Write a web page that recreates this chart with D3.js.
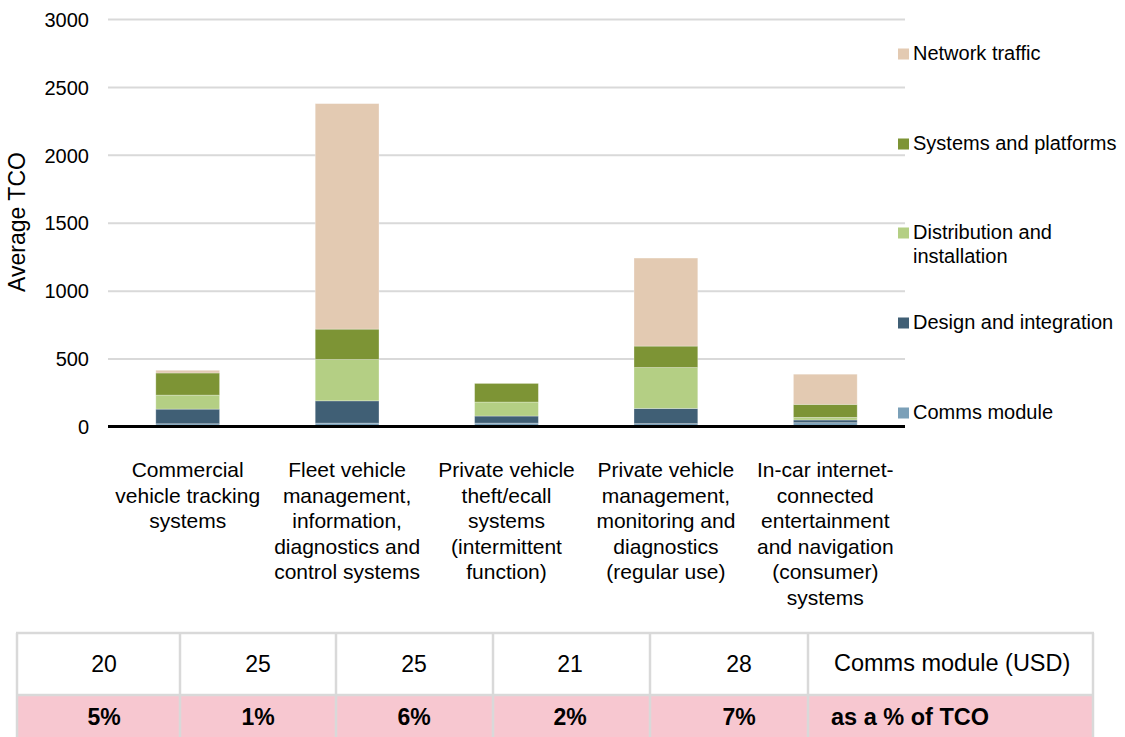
<!DOCTYPE html>
<html>
<head>
<meta charset="utf-8">
<script src="https://cdn.jsdelivr.net/npm/d3@7"></script>
<style>
  html, body { margin: 0; padding: 0; background: #fff; }
  svg { display: block; font-family: Arial, "Liberation Sans", sans-serif; }
</style>
</head>
<body>
<svg id="chart" width="1125" height="737"></svg>
<script>
// Telematics applications: average total cost of ownership, by cost component
const categories = [
  "Commercial vehicle tracking systems",
  "Fleet vehicle management, information, diagnostics and control systems",
  "Private vehicle theft/ecall systems (intermittent function)",
  "Private vehicle management, monitoring and diagnostics (regular use)",
  "In-car internet-connected entertainment and navigation (consumer) systems"
];
const categoryLines = [
  ["Commercial", "vehicle tracking", "systems"],
  ["Fleet vehicle", "management,", "information,", "diagnostics and", "control systems"],
  ["Private vehicle", "theft/ecall", "systems", "(intermittent", "function)"],
  ["Private vehicle", "management,", "monitoring and", "diagnostics", "(regular use)"],
  ["In-car internet-", "connected", "entertainment", "and navigation", "(consumer)", "systems"]
];

// Stack order, bottom to top
const seriesNames = ["Comms module", "Design and integration", "Distribution and installation", "Systems and platforms", "Network traffic"];
const commsModule        = [20, 25, 25, 21, 28];
const designIntegration  = [108, 164, 52, 112, 20];
const distribution       = [103, 304, 103, 301, 19];
const systemsPlatforms   = [163, 224, 137, 158, 96];
const networkTraffic     = [20, 1660, 0, 648, 222];

const yTicks = [0, 500, 1000, 1500, 2000, 2500, 3000];

// Table beneath the chart
const commsUsdLabels = ["20", "25", "25", "21", "28"];
const shareOfTco     = ["5%", "1%", "6%", "2%", "7%"];
const tableRowLabels = ["Comms module (USD)", "as a % of TCO"];

const colors = {
  "Comms module": "#7BA0B8",
  "Design and integration": "#405F75",
  "Distribution and installation": "#B4CF84",
  "Systems and platforms": "#7D9435",
  "Network traffic": "#E3CAB2"
};

const rows = categories.map((c, i) => ({
  category: c,
  "Comms module": commsModule[i],
  "Design and integration": designIntegration[i],
  "Distribution and installation": distribution[i],
  "Systems and platforms": systemsPlatforms[i],
  "Network traffic": networkTraffic[i]
}));

const svg = d3.select("#chart");
const plotLeft = 108, plotRight = 905, plotTop = 19, plotBottom = 426.5;

const x = d3.scaleBand().domain(categories).range([plotLeft, plotRight])
  .paddingInner(0.6).paddingOuter(0.3);
const y = d3.scaleLinear().domain([0, 3000]).range([plotBottom, plotTop]);

// Gridlines and y labels
const yAxis = d3.axisLeft(y).tickValues(yTicks).tickFormat(d3.format("d"))
  .tickSize(-(plotRight - plotLeft)).tickPadding(19);
const gy = svg.append("g").attr("transform", `translate(${plotLeft},0)`).call(yAxis);
gy.select(".domain").remove();
gy.selectAll(".tick line").attr("stroke", "#D9D9D9").attr("stroke-width", 2);
gy.selectAll(".tick text").attr("fill", "#000").attr("dy", "0.36em").style("font-size", "20px")
  .style("font-family", "Arial, 'Liberation Sans', sans-serif");

svg.append("text")
  .attr("transform", "translate(25,222) rotate(-90)")
  .attr("text-anchor", "middle")
  .style("font-size", "23px")
  .text("Average TCO");

// Stacked bars
const stack = d3.stack().keys(seriesNames);
const layers = stack(rows);
svg.append("g").selectAll("g").data(layers).join("g")
  .attr("fill", d => colors[d.key])
  .selectAll("rect").data(d => d).join("rect")
  .attr("x", d => x(d.data.category))
  .attr("width", x.bandwidth())
  .attr("y", d => y(d[1]))
  .attr("height", d => Math.max(0, y(d[0]) - y(d[1])))
  .attr("stroke", "#fff").attr("stroke-opacity", 0.35).attr("stroke-width", 0.8);

// Baseline
svg.append("line")
  .attr("x1", plotLeft).attr("x2", plotRight)
  .attr("y1", y(0)).attr("y2", y(0))
  .attr("stroke", "#000").attr("stroke-width", 3);

// Category labels
const lineH = 25.6;
categories.forEach((c, i) => {
  const cx = x(c) + x.bandwidth() / 2;
  const t = svg.append("text").attr("text-anchor", "middle").style("font-size", "21px");
  categoryLines[i].forEach((ln, j) => {
    t.append("tspan").attr("x", cx).attr("y", 477 + j * lineH).text(ln);
  });
});

// Legend
const legendItems = [
  { key: "Network traffic", lines: ["Network traffic"], y: 54 },
  { key: "Systems and platforms", lines: ["Systems and platforms"], y: 144 },
  { key: "Distribution and installation", lines: ["Distribution and", "installation"], y: 233 },
  { key: "Design and integration", lines: ["Design and integration"], y: 323 },
  { key: "Comms module", lines: ["Comms module"], y: 413 }
];
const lg = svg.append("g");
legendItems.forEach(it => {
  lg.append("rect").attr("x", 898).attr("y", it.y - 5.5).attr("width", 11).attr("height", 11)
    .attr("fill", colors[it.key]);
  const t = lg.append("text").style("font-size", "20px");
  it.lines.forEach((ln, j) => {
    t.append("tspan").attr("x", 913).attr("y", it.y + 6 + j * 23.5).text(ln);
  });
});

// Table
const colEdges = [17, 180, 336, 493, 650, 808, 1093];
const cellTextX = [104, 258, 414, 570, 739];
const rowTop = 633, rowMid = 695, rowBottom = 740;
const tbl = svg.append("g");
tbl.append("rect").attr("x", colEdges[0]).attr("y", rowMid)
  .attr("width", colEdges[6] - colEdges[0]).attr("height", rowBottom - rowMid)
  .attr("fill", "#F7C7D0");
[rowTop, rowMid].forEach(yy => {
  tbl.append("line").attr("x1", colEdges[0] - 1).attr("x2", colEdges[6] + 1)
    .attr("y1", yy).attr("y2", yy).attr("stroke", "#D9D9D9").attr("stroke-width", 2.5);
});
colEdges.forEach(xx => {
  tbl.append("line").attr("x1", xx).attr("x2", xx)
    .attr("y1", rowTop).attr("y2", rowBottom).attr("stroke", "#D9D9D9").attr("stroke-width", 2.5);
});
commsUsdLabels.forEach((v, i) => {
  tbl.append("text").attr("x", cellTextX[i]).attr("y", 672)
    .attr("text-anchor", "middle").style("font-size", "23px").text(v);
  tbl.append("text").attr("x", cellTextX[i]).attr("y", 725)
    .attr("text-anchor", "middle").style("font-size", "23px").style("font-weight", "bold").text(shareOfTco[i]);
});
tbl.append("text").attr("x", 834).attr("y", 671).style("font-size", "23.5px").text(tableRowLabels[0]);
tbl.append("text").attr("x", 831).attr("y", 725).style("font-size", "23.5px").style("font-weight", "bold").text(tableRowLabels[1]);
</script>
</body>
</html>
